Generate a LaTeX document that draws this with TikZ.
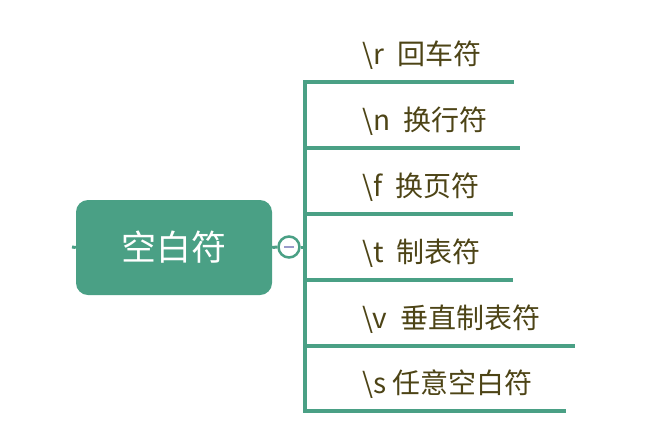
\documentclass[tikz,border=0pt]{standalone}
\usepackage{fontspec}
\setmainfont{Noto Sans CJK SC}
\definecolor{mapgreen}{HTML}{4AA085}
\definecolor{leaftext}{HTML}{4D4416}
\definecolor{foldmark}{HTML}{9A9ACA}

\begin{document}
\begin{tikzpicture}[x=1pt,y=-1pt,
  root/.style={fill=mapgreen, rounded corners=12pt, minimum width=196pt, minimum height=95pt, text=white, font=\fontsize{35}{40}\selectfont},
  leaf/.style={anchor=west, text=leaftext, font=\fontsize{28}{33}\selectfont, inner sep=0pt},
  branch/.style={draw=mapgreen, line width=4pt}]
  \useasboundingbox (0,0) rectangle (647,429);
  \node[root] (ws) at (174,247.5) {空白符};
  \coordinate (stub) at (72,247);
  \draw[mapgreen, line width=3pt] (stub) -- (ws.west);
  \node[circle, draw=mapgreen, line width=2.5pt, fill=white, minimum size=21pt, inner sep=0pt] (fold) at (289,247) {};
  \draw[mapgreen, line width=3pt] (ws.east) -- (fold.west);
  \draw[foldmark, line width=2pt] ([xshift=-5pt]fold.center) -- ([xshift=5pt]fold.center);
  % trunk
  \coordinate (top) at (305,80);
  \coordinate (bot) at (305,413);
  \coordinate (jn) at (305,247);
  \draw[branch] (top) -- (bot);
  \draw[mapgreen, line width=3pt] (fold.east) -- (jn);
  % leaves
  \node[leaf] (cr) at (362,55) {\textbackslash r\hspace{13pt}回车符};
  \node[leaf] (lf) at (362,121) {\textbackslash n\hspace{13pt}换行符};
  \node[leaf] (ff) at (362,187) {\textbackslash f\hspace{13pt}换页符};
  \node[leaf] (ht) at (362,253) {\textbackslash t\hspace{13pt}制表符};
  \node[leaf] (vt) at (362,319) {\textbackslash v\hspace{13pt}垂直制表符};
  \node[leaf] (sp) at (362,384) {\textbackslash s\hspace{6pt}任意空白符};
  \coordinate (cr0) at (303,82);  \coordinate (cr1) at (514,82);
  \coordinate (lf0) at (303,148); \coordinate (lf1) at (520,148);
  \coordinate (ff0) at (303,214); \coordinate (ff1) at (513,214);
  \coordinate (ht0) at (303,280); \coordinate (ht1) at (513,280);
  \coordinate (vt0) at (303,346); \coordinate (vt1) at (575,346);
  \coordinate (sp0) at (303,411); \coordinate (sp1) at (566,411);
  \draw[branch] (cr0) -- (cr1);
  \draw[branch] (lf0) -- (lf1);
  \draw[branch] (ff0) -- (ff1);
  \draw[branch] (ht0) -- (ht1);
  \draw[branch] (vt0) -- (vt1);
  \draw[branch] (sp0) -- (sp1);
\end{tikzpicture}
\end{document}
